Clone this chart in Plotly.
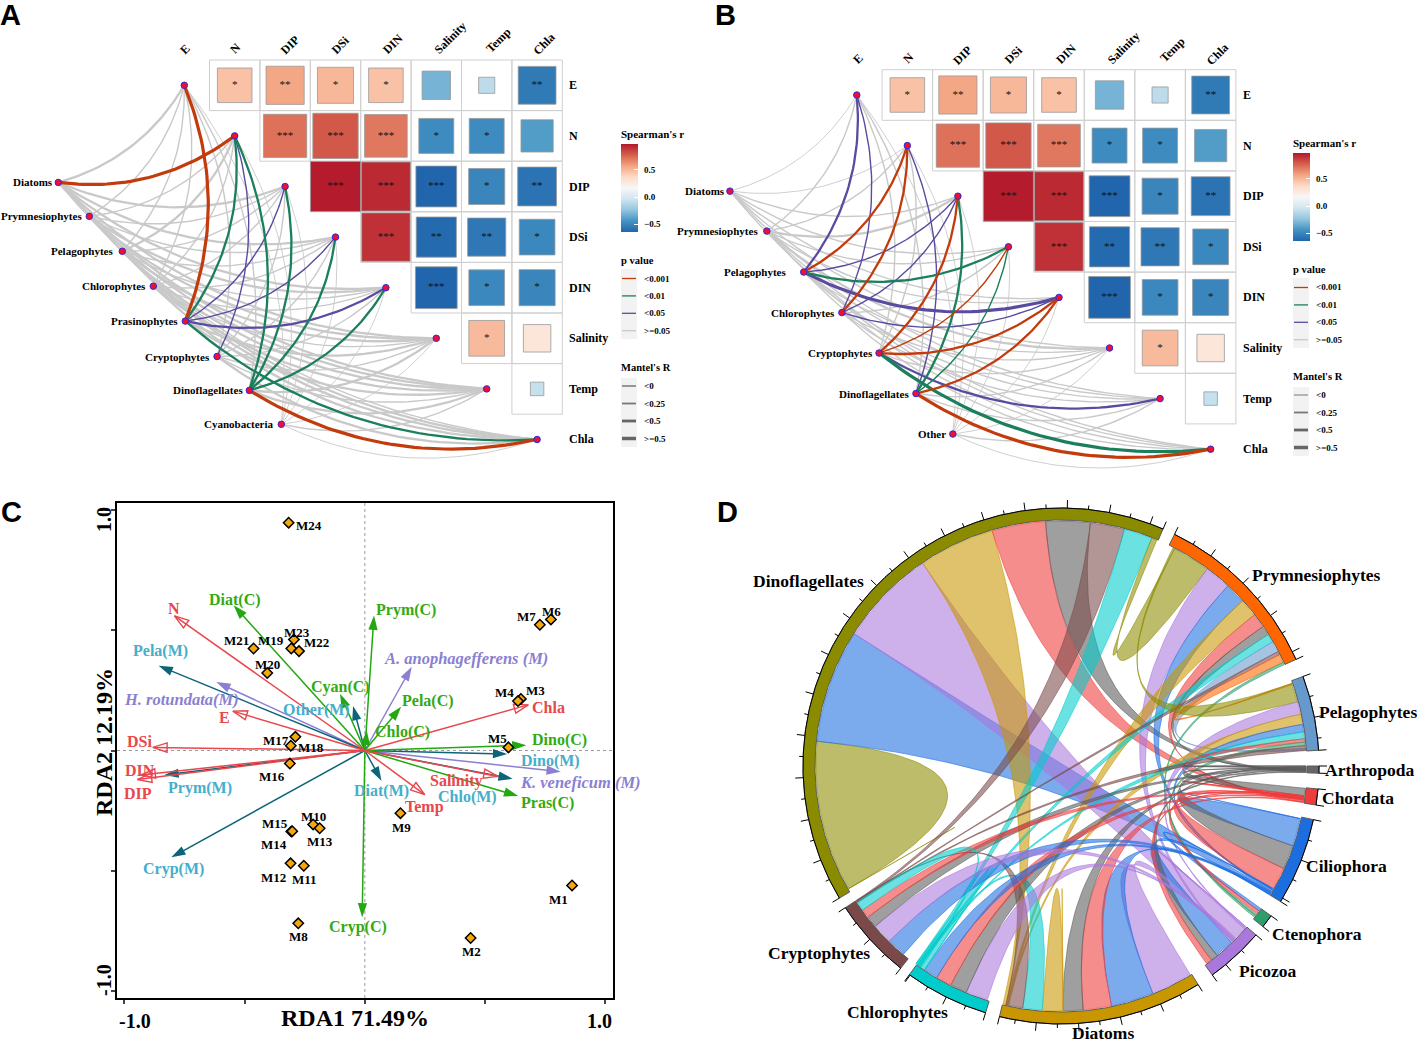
import numpy as np
import plotly.graph_objects as go

W, H = 1417, 1043
SERIF = "Liberation Serif"
SANS = "Liberation Sans"

# ---------- shared correlation data (panels A, B) ----------
env_names = ["E", "N", "DIP", "DSi", "DIN", "Salinity", "Temp", "Chla"]
spearman_r = [
    [None, 0.46, 0.56, 0.50, 0.46, -0.31, -0.10, -0.55],
    [None, None, 0.72, 0.79, 0.70, -0.47, -0.47, -0.40],
    [None, None, None, 0.96, 0.92, -0.64, -0.50, -0.58],
    [None, None, None, None, 0.90, -0.62, -0.56, -0.49],
    [None, None, None, None, None, -0.67, -0.49, -0.50],
    [None, None, None, None, None, None, 0.49, 0.29],
    [None, None, None, None, None, None, None, -0.07],
]
spearman_sig = [
    ["", "*", "**", "*", "*", "", "", "**"],
    ["", "", "***", "***", "***", "*", "*", ""],
    ["", "", "", "***", "***", "***", "*", "**"],
    ["", "", "", "", "***", "**", "**", "*"],
    ["", "", "", "", "", "***", "*", "*"],
    ["", "", "", "", "", "", "*", ""],
    ["", "", "", "", "", "", "", ""],
]
p_labels = ["<0.001", "<0.01", "<0.05", ">=0.05"]
p_colors = ["#C23B0C", "#1B7F5C", "#5A4BA0", "#C9C9C9"]
r_labels = ["<0", "<0.25", "<0.5", ">=0.5"]
r_widths = [0.9, 1.4, 2.3, 3.2]

species_a = ["Diatoms", "Prymnesiophytes", "Pelagophytes", "Chlorophytes", "Prasinophytes",
             "Cryptophytes", "Dinoflagellates", "Cyanobacteria"]
species_a_x = [-2.50, -1.885, -1.23, -0.615, 0.02, 0.65, 1.29, 1.925]
species_a_y = [1.92, 2.59, 3.28, 3.97, 4.66, 5.36, 6.03, 6.70]
mantel_p_a = [
    [3, 0, 3, 3, 3, 3, 3, 3],
    [3, 3, 3, 3, 3, 3, 3, 3],
    [3, 3, 3, 3, 3, 3, 3, 3],
    [3, 3, 3, 3, 3, 3, 3, 3],
    [0, 1, 2, 2, 2, 3, 3, 1],
    [3, 2, 3, 3, 3, 3, 3, 3],
    [3, 1, 1, 1, 1, 3, 3, 0],
    [3, 3, 3, 3, 3, 3, 3, 3],
]
mantel_r_a = [
    [2, 3, 2, 2, 2, 2, 2, 1],
    [1, 1, 1, 1, 2, 2, 2, 2],
    [1, 2, 1, 1, 1, 2, 2, 2],
    [1, 1, 1, 1, 1, 1, 2, 2],
    [3, 2, 1, 1, 2, 2, 2, 2],
    [1, 1, 1, 1, 1, 1, 1, 2],
    [1, 2, 2, 2, 2, 2, 2, 3],
    [0, 0, 0, 0, 0, 0, 1, 0],
]

species_b = ["Diatoms", "Prymnesiophytes", "Pelagophytes", "Chlorophytes", "Cryptophytes",
             "Dinoflagellates", "Other"]
species_b_x = [-2.51, -1.78, -1.05, -0.295, 0.44, 1.17, 1.90]
species_b_y = [1.90, 2.69, 3.50, 4.30, 5.10, 5.90, 6.70]
mantel_p_b = [
    [3, 3, 3, 3, 3, 3, 3, 3],
    [3, 3, 3, 3, 3, 3, 3, 3],
    [2, 0, 2, 1, 2, 3, 3, 3],
    [2, 0, 2, 3, 2, 3, 3, 3],
    [3, 3, 0, 0, 0, 3, 2, 1],
    [3, 2, 1, 1, 0, 3, 3, 0],
    [3, 3, 3, 3, 3, 3, 3, 3],
]
mantel_r_b = [
    [0, 0, 1, 1, 1, 1, 1, 1],
    [1, 1, 2, 1, 1, 2, 1, 1],
    [2, 2, 1, 2, 3, 1, 1, 1],
    [1, 2, 1, 1, 1, 1, 1, 1],
    [1, 1, 2, 1, 2, 1, 2, 3],
    [1, 1, 2, 1, 2, 1, 1, 3],
    [0, 0, 0, 0, 0, 0, 1, 0],
]
rdbu9 = ["#2166AC", "#4393C3", "#92C5DE", "#D1E5F0", "#F7F7F7", "#FDDBC7", "#F4A582", "#D6604D", "#B2182B"]

# ---------- panel C data ----------
site_names = ["M%d" % i for i in range(1, 25)]
site_x = [.862, .44, .649, .637, .597, .774, .728, -.277, .148, -.215, -.254, -.309,
          -.188, -.306, -.302, -.312, -.289, -.308, -.306, -.406, -.463, -.274, -.295, -.317]
site_y = [-.562, -.781, .215, .206, .013, .546, .524, -.72, -.261, -.308, -.48, -.47,
          -.324, -.337, -.336, -.054, .057, .02, .425, .323, .425, .414, .462, .949]
site_label_px = [(558, 899), (471, 951), (535, 690), (504, 692), (497, 738), (551, 611), (526, 616), (298, 936),
                 (401, 827), (313, 816), (304, 879), (273, 877), (320, 841), (274, 844), (275, 823), (272, 776),
                 (276, 740), (311, 747), (271, 640), (267, 664), (236, 640), (316, 642), (297, 632), (309, 525)]

env_arrow_names = ["N", "E", "DSi", "DIN", "DIP", "Chla", "Temp", "Salinity"]
env_arrow_x = [-.792, -.549, -.882, -.931, -.946, .68, .249, .554]
env_arrow_y = [.561, .164, .013, -.102, -.121, .19, -.184, -.108]
env_label_px = [(174, 608), (224, 717), (139, 741), (140, 770), (138, 793), (548, 707), (424, 807), (456, 781)]

comp_arrow_names = ["Diat(C)", "Prym(C)", "Pela(C)", "Cyan(C)", "Chlo(C)", "Dino(C)", "Pras(C)", "Cryp(C)"]
comp_arrow_x = [-.546, .038, .151, -.103, .008, .672, .638, -.011]
comp_arrow_y = [.605, .562, .182, .236, .083, .022, -.19, -.695]
comp_label_px = [(235, 600), (406, 610), (428, 701), (340, 687), (402, 732), (559, 740), (547, 803), (358, 927)]

mix_arrow_names = ["Pela(M)", "Other(M)", "Prym(M)", "Cryp(M)", "Diat(M)", "Dino(M)", "Chlo(M)"]
mix_arrow_x = [-.858, -.049, -.834, -.805, .069, .592, .615]
mix_arrow_y = [.353, .185, -.102, -.445, -.126, -.015, -.118]
mix_label_px = [(160, 651), (316, 710), (200, 788), (173, 869), (381, 791), (550, 761), (467, 797)]

hab_arrow_names = ["H. rotundata(M)", "A. anophagefferens (M)", "K. veneficum (M)"]
hab_arrow_x = [-.618, .195, .815]
hab_arrow_y = [.285, .349, -.088]
hab_label_px = [(181, 699), (466, 658), (580, 782)]

# ---------- panel D data (values expressed as degrees round the circle) ----------
sector_names = ["Prymnesiophytes", "Pelagophytes", "Arthropoda", "Chordata", "Ciliophora", "Ctenophora",
                "Picozoa", "Diatoms", "Chlorophytes", "Cryptophytes", "Dinoflagellates"]
sector_start = [26.1, 69.7, 90.0, 95.1, 102.0, 125.5, 130.9, 147.9, 197.0, 218.4, 239.2]
sector_end = [65.6, 86.5, 91.6, 98.7, 121.7, 128.5, 144.1, 193.8, 216.0, 236.7, 383.3]
sector_colors = ["#FF6600", "#6699CC", "#666666", "#EE3B3B", "#1C6EE0", "#2E9E6B",
                 "#AA77DD", "#C89600", "#00CCCC", "#7A4A4A", "#8B8B00"]
sector_label_px = [(1316, 575), (1368, 712), (1369, 770), (1358, 798), (1346, 866), (1317, 934),
                   (1268, 971), (1103, 1033), (897, 1012), (819, 953), (808, 581)]
ribbon_colors = {"olive": "139,139,0", "blue": "28,110,224", "purple": "170,119,221", "gold": "200,150,0",
                 "red": "238,59,59", "grey": "90,90,90", "brown": "122,74,74", "cyan": "0,204,204",
                 "lblue": "102,153,204", "orange": "255,102,0", "green": "46,158,107"}
# colour, wide end start, wide end stop, other end start, other end stop
chord_links = [
    ("olive", 240, 275.8, 240, 240), ("blue", 275.8, 302.6, 120.8, 121.7), ("purple", 302.6, 325.7, 131.6, 135.6),
    ("gold", 325.7, 343.7, 193, 193.7), ("red", 343.7, 356.4, 98, 98.6), ("grey", 356.4, 366.9, 91, 91.5),
    ("brown", 366.9, 375, 236.3, 236.7), ("cyan", 375, 381.7, 215.8, 216.3), ("olive", 381.7, 383, 27.6, 36.6),
    ("purple", 36.6, 42.8, 135.6, 136), ("blue", 42.8, 47.7, 120.4, 120.8), ("gold", 47.7, 52, 192.6, 193),
    ("red", 52, 55.4, 97.7, 98), ("grey", 55.4, 57.6, 90.8, 91), ("cyan", 57.6, 59.6, 215.4, 215.8),
    ("lblue", 59.6, 62.2, 85.8, 86.3), ("brown", 62.2, 63, 236.3, 236.5), ("orange", 63, 65, 70.3, 70.6),
    ("green", 65, 65.6, 127.5, 128),
    ("olive", 70.3, 74.8, 27.2, 27.6), ("purple", 74.8, 77.8, 131.3, 131.6), ("gold", 77.8, 80.2, 192.3, 192.6),
    ("blue", 80.2, 82, 120.2, 120.4), ("cyan", 82, 83.6, 215.2, 215.4), ("red", 83.6, 84.4, 97.5, 97.7),
    ("green", 84.4, 85.2, 127.2, 127.5), ("brown", 85.2, 86.4, 236.1, 236.3),
    ("grey", 90, 90.5, 90, 90), ("grey", 95.2, 97, 90.5, 90.8), ("red", 97, 97.5, 97, 97),
    ("blue", 102.4, 109, 102.4, 102.4), ("grey", 109, 114.7, 90.3, 90.5), ("red", 114.7, 120, 97.3, 97.5),
    ("blue", 125.5, 126.2, 120.1, 120.2), ("red", 126.2, 127, 97.2, 97.3),
    ("purple", 131, 131.3, 131, 131), ("blue", 136, 140.5, 120, 120.1), ("grey", 140.5, 142.2, 90.2, 90.3),
    ("red", 142.2, 143.6, 97.1, 97.2),
    ("purple", 148.2, 158, 135.4, 135.6), ("blue", 158, 168.1, 121.5, 121.7), ("red", 168.1, 174.8, 98.3, 98.5),
    ("grey", 174.8, 179.5, 91.3, 91.5), ("gold", 179.5, 184.4, 179.5, 179.5), ("cyan", 184.4, 189, 215.6, 215.8),
    ("brown", 189, 193, 236.5, 236.7),
    ("purple", 197.5, 202.7, 135, 135.4), ("grey", 202.7, 206.7, 90.9, 91.1), ("red", 206.7, 210.4, 97.8, 98),
    ("blue", 210.4, 213.8, 121.2, 121.5), ("cyan", 213.8, 216.3, 213.8, 213.8),
    ("blue", 219.9, 224.4, 120.9, 121.2), ("purple", 224.4, 229.2, 134.6, 135), ("grey", 229.2, 231.9, 90.6, 90.9),
    ("red", 231.9, 234, 97.6, 97.8), ("cyan", 234, 236.3, 214.8, 215.2),
]

# label placement (pixels relative to the column or node)
top_label_dx = [1, 1, 5, 5, 7, 14, 12, 7]
top_label_dy = [-36, -37, -40, -40, -41, -47, -45, -41]

# ---------- helpers ----------
def fx(p):
    return p / W

def fy(p):
    return 1 - p / H

annos, shapes = [], []

def label(px, py, text, size=11, color="black", bold=True, xanchor="center", angle=0, family=SERIF, italic=False):
    t = text
    if italic:
        t = "<i>%s</i>" % t
    if bold:
        t = "<b>%s</b>" % t
    annos.append(dict(x=fx(px), y=fy(py), xref="paper", yref="paper", text=t, showarrow=False,
                      xanchor=xanchor, yanchor="middle", textangle=angle,
                      font=dict(family=family, size=size, color=color)))

fig = go.Figure()

# ---------- panels A and B ----------
def corr_panel(xa, ya, x0, y0, dx, dy, region, species, sx, sy, mp, mr, legx, legy, key_widths, name_gap):
    xname, yname = xa, ya
    gx, gy = [], []
    for i in range(7):
        for j in range(i + 1, 8):
            gx += [j - .5, j + .5, j + .5, j - .5, j - .5, None]
            gy += [i - .5, i - .5, i + .5, i + .5, i - .5, None]
    fig.add_trace(go.Scatter(x=gx, y=gy, mode="lines", xaxis=xname, yaxis=yname, hoverinfo="skip",
                             line=dict(color="#CFCFCF", width=1), showlegend=False))
    for pc in [3, 2, 1, 0]:
        for rc in range(4):
            lx, ly = [], []
            for s in range(len(species)):
                for e in range(8):
                    if mp[s][e] != pc or mr[s][e] != rc:
                        continue
                    p0 = np.array([sx[s], sy[s]])
                    p2 = np.array([float(e), float(e)])
                    d = p2 - p0
                    c = (p0 + p2) / 2 + 0.2 * np.array([-d[1], d[0]])
                    t = np.linspace(0, 1, 40)
                    lx += list((1 - t) ** 2 * p0[0] + 2 * t * (1 - t) * c[0] + t ** 2 * p2[0]) + [None]
                    ly += list((1 - t) ** 2 * p0[1] + 2 * t * (1 - t) * c[1] + t ** 2 * p2[1]) + [None]
            if lx:
                fig.add_trace(go.Scatter(x=lx, y=ly, mode="lines", xaxis=xname, yaxis=yname, hoverinfo="skip",
                                         line=dict(color=p_colors[pc], width=r_widths[rc]), showlegend=False))
    hx, hy, hv, hs, ht = [], [], [], [], []
    for i, row in enumerate(spearman_r):
        for j, v in enumerate(row):
            if v is not None:
                hx.append(j); hy.append(i); hv.append(v)
                hs.append(51 * abs(v) ** 0.5)
                ht.append(spearman_sig[i][j])
    fig.add_trace(go.Scatter(
        x=hx, y=hy, mode="markers+text", xaxis=xname, yaxis=yname, text=ht, textposition="middle center",
        textfont=dict(family=SERIF, size=11, color="#111"), hoverinfo="skip", showlegend=False,
        marker=dict(symbol="square", size=hs, color=hv, cmin=-.64, cmax=.97, colorscale=rdbu9, opacity=1,
                    line=dict(color="#999999", width=0.8),
                    colorbar=dict(x=fx(legx), xanchor="left", y=fy(legy), yanchor="top", len=88, lenmode="pixels",
                                  thickness=17, outlinewidth=0, xpad=0, ypad=0, showticklabels=False,
                                  tickvals=[-.5, 0, .5],
                                  ticks="inside", tickcolor="white", ticklen=4, tickwidth=1))))
    fig.add_trace(go.Scatter(x=list(sx) + list(range(8)), y=list(sy) + list(range(8)), mode="markers",
                             xaxis=xname, yaxis=yname, hoverinfo="skip", showlegend=False,
                             marker=dict(size=6.5, color="#F0102E", opacity=1, line=dict(color="#2A2AE0", width=1))))
    for n, a, b, g in zip(species, sx, sy, name_gap):
        label(x0 + dx * a - g + 3, y0 + dy * b, n, size=11, xanchor="right")
    for i, n in enumerate(env_names):
        label(x0 + dx * 7 + 30, y0 + dy * i, n, size=12, xanchor="left")
        label(x0 + dx * i + top_label_dx[i], y0 + top_label_dy[i], n, size=12, angle=-45)
    label(legx - 2, legy - 10, "Spearman's r", size=11, xanchor="left")
    for txt, v in [("0.5", .5), ("0.0", 0.0), ("−0.5", -.5)]:
        label(legx + 21, legy + (.97 - v) * 88 / 1.61, txt, size=9, xanchor="left")
    label(legx - 2, legy + 116, "p value", size=10.5, xanchor="left")
    label(legx - 2, legy + 223, "Mantel's R", size=10.5, xanchor="left")
    shapes.append(dict(type="rect", xref="paper", yref="paper", x0=fx(legx), x1=fx(legx + 16), y0=fy(legy + 125),
                       y1=fy(legy + 195), fillcolor="#F2F2F2", line=dict(width=0), layer="below"))
    shapes.append(dict(type="rect", xref="paper", yref="paper", x0=fx(legx), x1=fx(legx + 16), y0=fy(legy + 234),
                       y1=fy(legy + 303), fillcolor="#F2F2F2", line=dict(width=0), layer="below"))
    for k in range(4):
        yk = legy + 134.5 + 17.4 * k
        shapes.append(dict(type="line", xref="paper", yref="paper", x0=fx(legx + 1), x1=fx(legx + 15), y0=fy(yk),
                           y1=fy(yk), line=dict(color=p_colors[k], width=1.3)))
        label(legx + 21, yk, p_labels[k], size=9, xanchor="left")
        yk = legy + 242 + 17.5 * k
        shapes.append(dict(type="line", xref="paper", yref="paper", x0=fx(legx + 1), x1=fx(legx + 15), y0=fy(yk),
                           y1=fy(yk), line=dict(color="#777777" if k < 2 else "#666666", width=key_widths[k])))
        label(legx + 21, yk, r_labels[k], size=9, xanchor="left")
    rx0, rx1, ry0, ry1 = region
    axx = dict(domain=[fx(rx0), fx(rx1)], range=[(rx0 - x0) / dx, (rx1 - x0) / dx], visible=False, fixedrange=True)
    axy = dict(domain=[fy(ry1), fy(ry0)], range=[(ry1 - y0) / dy, (ry0 - y0) / dy], visible=False, fixedrange=True)
    return axx, axy

ax1x, ax1y = corr_panel("x", "y", 184.3, 85.3, 50.4, 50.6, (0, 690, 20, 470), species_a, species_a_x, species_a_y,
                        mantel_p_a, mantel_r_a, 621, 144, [1.5, 1.8, 2.8, 3.5], [6, 8, 10, 8, 8, 8, 7, 8])
ax2x, ax2y = corr_panel("x2", "y2", 856.8, 95.0, 50.55, 50.6, (700, 1362, 20, 470), species_b, species_b_x, species_b_y,
                        mantel_p_b, mantel_r_b, 1293, 153, [1, 1.8, 2.8, 3.5], [6, 10, 19, 8, 7, 8, 8])

# ---------- panel C ----------
xr3 = [-1.031, 1.031]
yr3 = [-1.031, 1.031]
for xs, ys in [(xr3, [0, 0]), ([0, 0], yr3)]:
    fig.add_trace(go.Scatter(x=xs, y=ys, mode="lines", xaxis="x3", yaxis="y3", hoverinfo="skip", showlegend=False,
                             line=dict(color="#9A9A9A", width=1, dash="dot")))

def arrows(xs, ys, names, lab_px, line_color, text_color, open_head=False, italic=False, size=15, tsize=16):
    for a, b, n, lp in zip(xs, ys, names, lab_px):
        sym = "arrow-open" if open_head else "arrow"
        fig.add_trace(go.Scatter(
            x=[0, a], y=[0, b], mode="lines+markers", xaxis="x3", yaxis="y3", hoverinfo="skip", showlegend=False,
            line=dict(color=line_color, width=1.5),
            marker=dict(symbol=["circle", sym], size=[0, size], color=line_color, angleref="previous", opacity=1,
                        line=dict(color=line_color, width=1.4 if open_head else 0))))
        label(lp[0], lp[1], n, size=tsize, color=text_color, italic=italic)

arrows(hab_arrow_x, hab_arrow_y, hab_arrow_names, hab_label_px, "#8A7FD2", "#8A7FD2", italic=True, tsize=16.5)
arrows(mix_arrow_x, mix_arrow_y, mix_arrow_names, mix_label_px, "#0B6478", "#45AECB")
arrows(comp_arrow_x, comp_arrow_y, comp_arrow_names, comp_label_px, "#22A810", "#33AA11")
arrows(env_arrow_x, env_arrow_y, env_arrow_names, env_label_px, "#E8474C", "#E8474C", open_head=True)
fig.add_trace(go.Scatter(x=site_x, y=site_y, mode="markers", xaxis="x3", yaxis="y3", hoverinfo="skip", showlegend=False,
                         marker=dict(symbol="diamond", size=8, color="#F5A80C", opacity=1,
                                     line=dict(color="black", width=1.5))))
for n, lp in zip(site_names, site_label_px):
    label(lp[0], lp[1], n, size=13)

label(355, 1018, "RDA1 71.49%", size=24)
label(104, 742, "RDA2 12.19%", size=24, angle=-90)
label(135, 1021, "-1.0", size=20)
label(599, 1021, "1.0", size=20)
label(104, 520, "1.0", size=20, angle=-90)
label(104, 980, "-1.0", size=20, angle=-90)

ax3x = dict(domain=[fx(117), fx(612.7)], range=xr3, showline=True, mirror=True, linecolor="black", linewidth=2,
            ticks="outside", tickvals=[-1, -.5, 0, .5, 1], ticklen=4, tickwidth=1.5, showticklabels=False,
            showgrid=False, zeroline=False, anchor="y3", fixedrange=True)
ax3y = dict(domain=[fy(998), fy(503)], range=yr3, showline=True, mirror=True, linecolor="black", linewidth=2,
            ticks="outside", tickvals=[-1, -.5, 0, .5, 1], ticklen=4, tickwidth=1.5, showticklabels=False,
            showgrid=False, zeroline=False, anchor="x3", fixedrange=True)

# ---------- panel D ----------
CX, CY = 1061.0, 766.0
R_OUT, R_IN, R_LINK = 258.0, 246.0, 245.0

def polar(theta, r):
    th = np.radians(theta)
    return r * np.sin(th), r * np.cos(th)

def arc(a, b, r):
    n = max(2, int(abs(b - a) * 2) + 2)
    return polar(np.linspace(a, b, n), r)

def bezier(a, b):
    x0, y0 = polar(a, R_LINK)
    x2, y2 = polar(b, R_LINK)
    t = np.linspace(0, 1, 50)
    return (1 - t) ** 2 * x0 + t ** 2 * x2, (1 - t) ** 2 * y0 + t ** 2 * y2

for col, a0, a1, b0, b1 in chord_links:
    xs, ys = [], []
    for px_, py_ in [arc(a0, a1, R_LINK), bezier(a1, b0), arc(b0, b1, R_LINK), bezier(b1, a0)]:
        xs += list(px_); ys += list(py_)
    rgb = ribbon_colors[col]
    fig.add_trace(go.Scatter(x=xs, y=ys, mode="lines", fill="toself", xaxis="x4", yaxis="y4", hoverinfo="skip",
                             showlegend=False, fillcolor="rgba(%s,0.58)" % rgb,
                             line=dict(color="rgba(%s,0.7)" % rgb, width=0.8)))

for name, s, e, c, lp in zip(sector_names, sector_start, sector_end, sector_colors, sector_label_px):
    ox, oy = arc(s, e, R_OUT)
    ix, iy = arc(e, s, R_IN)
    fig.add_trace(go.Scatter(x=list(ox) + list(ix) + [ox[0]], y=list(oy) + list(iy) + [oy[0]], mode="lines",
                             fill="toself", fillcolor=c, xaxis="x4", yaxis="y4", hoverinfo="skip", showlegend=False,
                             line=dict(color="#5A5A5A", width=1)))
    tx, ty = [], []
    ticks = list(np.arange(s, e, 4.7)) + [e]
    for k, t in enumerate(ticks):
        ln = 8 if (k % 2 == 0 or k == len(ticks) - 1) else 4
        a, b = polar(t, R_OUT)
        a2, b2 = polar(t, R_OUT + ln)
        tx += [a, a2, None]; ty += [b, b2, None]
    tx += list(ox); ty += list(oy)
    fig.add_trace(go.Scatter(x=tx, y=ty, mode="lines", xaxis="x4", yaxis="y4", hoverinfo="skip", showlegend=False,
                             line=dict(color="black", width=1)))
    label(lp[0], lp[1], name, size=17.5)

D_X = (720, 1417)
D_Y = (490, 1043)
ax4x = dict(domain=[fx(D_X[0]), fx(D_X[1])], range=[D_X[0] - CX, D_X[1] - CX], visible=False, fixedrange=True, anchor="y4")
ax4y = dict(domain=[fy(D_Y[1]), fy(D_Y[0])], range=[CY - D_Y[1], CY - D_Y[0]], visible=False, fixedrange=True, anchor="x4")

for t, a, b in [("A", 10, 15), ("B", 725, 15), ("C", 11, 512), ("D", 727, 512)]:
    label(a, b, t, size=29, family=SANS)

ax2x["anchor"] = "y2"
ax2y["anchor"] = "x2"
fig.update_layout(
    width=W, height=H, margin=dict(l=0, r=0, t=0, b=0), autosize=False,
    paper_bgcolor="white", plot_bgcolor="rgba(0,0,0,0)", showlegend=False,
    xaxis=ax1x, yaxis=ax1y, xaxis2=ax2x, yaxis2=ax2y, xaxis3=ax3x, yaxis3=ax3y, xaxis4=ax4x, yaxis4=ax4y,
    annotations=annos, shapes=shapes,
)
fig.write_html("out.html", config=dict(displayModeBar=False),
               post_script="document.body.style.margin='0';document.body.style.overflow='hidden';")
